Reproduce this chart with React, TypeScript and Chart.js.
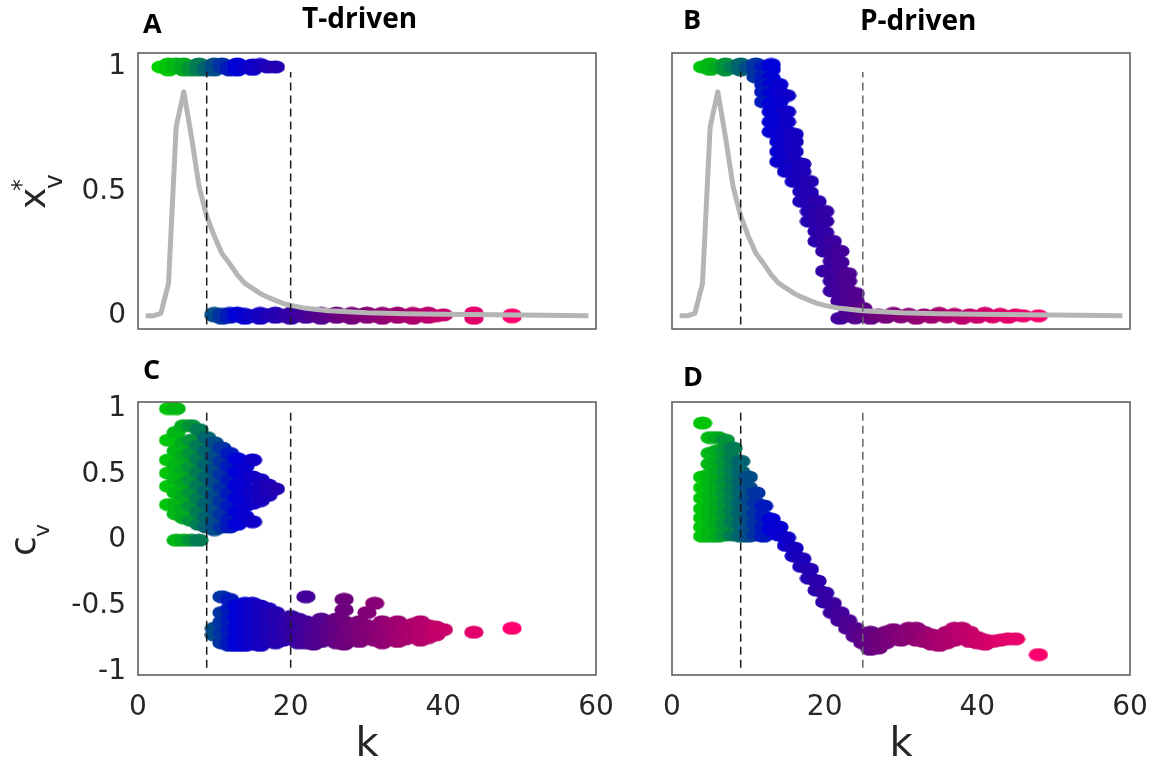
import React, { useEffect, useRef } from "react";
import { Chart, registerables } from "chart.js";

Chart.register(...registerables);

type Pt = [number, number];

// ---------- axes ----------
const xTicks = [0, 20, 40, 60];
const yTicksTop = [0, 0.5, 1];
const yTicksBottom = [-1, -0.5, 0, 0.5, 1];

// ---------- degree distribution (grey curve) ----------
const distK = [1, 2, 3, 4, 5, 6, 7, 8, 9, 10, 11, 12, 13, 14, 15, 16, 17, 18, 19, 20, 22, 25, 30, 35, 40, 50, 59];
const distP = [0, 0, 0.01, 0.13, 0.76, 0.9, 0.72, 0.52, 0.4, 0.32, 0.25, 0.21, 0.165, 0.13, 0.11, 0.09, 0.075, 0.062, 0.05, 0.042, 0.03, 0.02, 0.012, 0.008, 0.006, 0.003, 0];

// ---------- thresholds (dashed lines) ----------
const thresholdsT = [9, 20];
const thresholdsP = [9, 25];
const dashSpanTop: [number, number] = [-0.035, 0.98];
const dashSpanBottom: [number, number] = [-0.97, 0.97];

// ---------- A: T-driven, x*_v ----------
const aHigh: Pt[] = [
  [3, 1.0], [4, 0.988], [4, 1.012], [5, 1.0], [5, 1.012], [6, 0.988], [6, 1.012], [7, 1.0], [7, 0.988],
  [8, 1.012], [8, 0.988], [9, 1.0], [9, 0.988], [10, 1.012], [10, 0.988], [11, 1.0], [11, 1.012],
  [12, 0.988], [12, 1.0], [13, 1.012], [13, 0.988], [14, 1.0], [15, 1.008], [15, 0.99], [16, 1.01],
  [17, 1.0], [18, 1.0],
];
const aLow: Pt[] = [
  [10, 0.0], [10, 0.01], [11, -0.01], [11, 0.006], [12, 0.01], [12, -0.006], [13, 0.0], [13, 0.011],
  [14, -0.01], [14, 0.006], [15, 0.0], [16, 0.01], [16, -0.01], [17, 0.004], [18, -0.006], [18, 0.011],
  [19, 0.0], [20, 0.01], [20, -0.01], [21, 0.004], [22, -0.006], [22, 0.011], [23, 0.0], [24, 0.01],
  [24, -0.01], [25, 0.004], [26, -0.006], [26, 0.011], [27, 0.0], [28, 0.01], [28, -0.01], [29, 0.004],
  [30, -0.006], [30, 0.011], [31, 0.0], [32, 0.01], [32, -0.01], [33, 0.004], [34, -0.006], [34, 0.011],
  [35, 0.0], [36, 0.01], [36, -0.01], [37, 0.004], [38, -0.006], [38, 0.011], [39, 0.0], [40, 0.004],
  [44, 0.012], [44, -0.01], [49, 0.004], [49, -0.004],
];

// ---------- B: P-driven, x*_v ----------
const bHigh: Pt[] = [
  [4, 1.0], [5, 0.99], [5, 1.012], [6, 1.0], [7, 0.988], [7, 1.012], [8, 1.0], [9, 0.988], [9, 1.012],
  [10, 1.0], [11, 0.988], [11, 1.012], [12, 1.0], [13, 0.99], [13, 1.01],
];
const bSlope: Pt[] = [
  [11, 0.96], [12, 0.96], [13, 0.955],
  [12, 0.93], [13, 0.925], [14, 0.93],
  [12, 0.9], [13, 0.89], [14, 0.9], [15, 0.885],
  [12, 0.86], [13, 0.855], [14, 0.86],
  [13, 0.82], [14, 0.815], [15, 0.82],
  [13, 0.78], [14, 0.775], [15, 0.78],
  [13, 0.74], [14, 0.735], [15, 0.74], [16, 0.73],
  [14, 0.7], [15, 0.695], [16, 0.7],
  [14, 0.66], [15, 0.655], [16, 0.66],
  [14, 0.62], [15, 0.615], [16, 0.62], [17, 0.61],
  [15, 0.58], [16, 0.575], [17, 0.58],
  [16, 0.54], [17, 0.535], [18, 0.54],
  [17, 0.5], [18, 0.495],
  [17, 0.46], [18, 0.455], [19, 0.46],
  [18, 0.42], [19, 0.415], [20, 0.42],
  [18, 0.38], [19, 0.375], [20, 0.38],
  [19, 0.34], [20, 0.335],
  [19, 0.3], [20, 0.295], [21, 0.3],
  [20, 0.26], [21, 0.255], [22, 0.26],
  [21, 0.22], [22, 0.215],
  [20, 0.18], [21, 0.175], [22, 0.18], [23, 0.17],
  [21, 0.14], [22, 0.135], [23, 0.14],
  [21, 0.1], [22, 0.095], [23, 0.1], [24, 0.09],
  [22, 0.06], [23, 0.055], [24, 0.06],
  [23, 0.03], [24, 0.025], [25, 0.03],
];
const bLow: Pt[] = [
  [22, -0.01], [23, 0.006], [24, -0.008], [25, 0.01], [26, -0.01], [27, 0.004], [28, -0.006], [29, 0.01],
  [30, -0.004], [31, 0.006], [32, -0.01], [33, 0.004], [34, -0.006], [35, 0.01], [36, -0.004], [37, 0.006],
  [38, -0.01], [39, 0.004], [40, -0.006], [41, 0.01], [42, -0.004], [43, 0.006], [44, -0.006], [45, 0.004],
  [46, 0.0], [48, 0.0],
];

// ---------- C: T-driven, c_v ----------
const cUpper: Pt[] = [
  [4, 1.0], [4, 0.76], [4, 0.61], [4, 0.51], [4, 0.41], [4, 0.27],
  [5, 1.0], [5, 0.82], [5, 0.68], [5, 0.57], [5, 0.47], [5, 0.36], [5, 0.27], [5, 0.2], [5, 0.0],
  [6, 0.87], [6, 0.74], [6, 0.64], [6, 0.54], [6, 0.44], [6, 0.34], [6, 0.24], [6, 0.17], [6, 0.0],
  [7, 0.87], [7, 0.76], [7, 0.66], [7, 0.56], [7, 0.46], [7, 0.36], [7, 0.26], [7, 0.15], [7, 0.0],
  [8, 0.84], [8, 0.72], [8, 0.62], [8, 0.52], [8, 0.42], [8, 0.32], [8, 0.22], [8, 0.12], [8, 0.0],
  [9, 0.78], [9, 0.68], [9, 0.58], [9, 0.48], [9, 0.38], [9, 0.28], [9, 0.18], [9, 0.1],
  [10, 0.74], [10, 0.64], [10, 0.54], [10, 0.44], [10, 0.34], [10, 0.24], [10, 0.14], [10, 0.08],
  [11, 0.7], [11, 0.6], [11, 0.5], [11, 0.4], [11, 0.3], [11, 0.2], [11, 0.1],
  [12, 0.66], [12, 0.56], [12, 0.46], [12, 0.36], [12, 0.26], [12, 0.16], [12, 0.1],
  [13, 0.62], [13, 0.52], [13, 0.42], [13, 0.32], [13, 0.22], [13, 0.12],
  [14, 0.56], [14, 0.46], [14, 0.36], [14, 0.26], [14, 0.18],
  [15, 0.61], [15, 0.48], [15, 0.38], [15, 0.28], [15, 0.14],
  [16, 0.46], [16, 0.38], [16, 0.3],
  [17, 0.42], [17, 0.34],
  [18, 0.39],
];
const cLower: Pt[] = [
  [10, -0.67], [10, -0.72],
  [11, -0.43], [11, -0.55], [11, -0.62], [11, -0.7], [11, -0.78],
  [12, -0.45], [12, -0.52], [12, -0.6], [12, -0.68], [12, -0.76], [12, -0.8],
  [13, -0.5], [13, -0.58], [13, -0.66], [13, -0.74], [13, -0.8],
  [14, -0.48], [14, -0.56], [14, -0.64], [14, -0.72], [14, -0.8],
  [15, -0.48], [15, -0.56], [15, -0.64], [15, -0.72], [15, -0.79],
  [16, -0.5], [16, -0.58], [16, -0.66], [16, -0.74], [16, -0.8],
  [17, -0.52], [17, -0.6], [17, -0.68], [17, -0.76],
  [18, -0.55], [18, -0.63], [18, -0.71], [18, -0.78],
  [19, -0.6], [19, -0.68], [19, -0.76],
  [20, -0.58], [20, -0.66], [20, -0.74],
  [21, -0.6], [21, -0.7], [21, -0.78],
  [22, -0.43], [22, -0.62], [22, -0.7], [22, -0.78],
  [23, -0.65], [23, -0.73], [23, -0.79],
  [24, -0.6], [24, -0.7], [24, -0.77],
  [25, -0.66], [25, -0.75],
  [26, -0.6], [26, -0.7], [26, -0.78],
  [27, -0.45], [27, -0.53], [27, -0.62], [27, -0.72], [27, -0.79],
  [28, -0.65], [28, -0.75],
  [29, -0.62], [29, -0.7], [29, -0.77],
  [30, -0.55], [30, -0.65], [30, -0.74],
  [31, -0.48], [31, -0.68], [31, -0.76],
  [32, -0.62], [32, -0.72], [32, -0.78],
  [33, -0.65], [33, -0.74],
  [34, -0.62], [34, -0.7], [34, -0.77],
  [35, -0.66], [35, -0.75],
  [36, -0.64], [36, -0.72],
  [37, -0.62], [37, -0.7], [37, -0.76],
  [38, -0.65], [38, -0.74],
  [39, -0.66], [39, -0.72],
  [40, -0.68],
  [44, -0.7],
  [49, -0.67],
];

// ---------- D: P-driven, c_v ----------
const dBlock: Pt[] = [
  [4, 0.89], [4, 0.48], [4, 0.4], [4, 0.32], [4, 0.24], [4, 0.17], [4, 0.1], [4, 0.03],
  [5, 0.78], [5, 0.66], [5, 0.58], [5, 0.5], [5, 0.42], [5, 0.34], [5, 0.26], [5, 0.18], [5, 0.1], [5, 0.03],
  [6, 0.78], [6, 0.68], [6, 0.6], [6, 0.52], [6, 0.44], [6, 0.36], [6, 0.28], [6, 0.2], [6, 0.12], [6, 0.03],
  [7, 0.76], [7, 0.68], [7, 0.6], [7, 0.52], [7, 0.44], [7, 0.36], [7, 0.28], [7, 0.2], [7, 0.12], [7, 0.04],
  [8, 0.7], [8, 0.62], [8, 0.54], [8, 0.46], [8, 0.38], [8, 0.3], [8, 0.22], [8, 0.14], [8, 0.04],
  [9, 0.6], [9, 0.52], [9, 0.44], [9, 0.36], [9, 0.28], [9, 0.2], [9, 0.12], [9, 0.03],
  [10, 0.48], [10, 0.4], [10, 0.32], [10, 0.24], [10, 0.16], [10, 0.08], [10, 0.03],
  [11, 0.36], [11, 0.28], [11, 0.2], [11, 0.12], [11, 0.04],
  [12, 0.26], [12, 0.18], [12, 0.1], [12, 0.03],
  [13, 0.16], [13, 0.08],
];
const dSlope: Pt[] = [
  [14, 0.1], [14, 0.04], [15, 0.02], [15, -0.04], [16, -0.06], [16, -0.12], [17, -0.14], [17, -0.2],
  [18, -0.22], [18, -0.29], [19, -0.31], [19, -0.38], [20, -0.4], [20, -0.47], [21, -0.48], [21, -0.55],
  [22, -0.55], [22, -0.61], [23, -0.61], [23, -0.67], [24, -0.67], [24, -0.73], [25, -0.72], [25, -0.78],
];
const dTail: Pt[] = [
  [26, -0.7], [26, -0.78], [26, -0.83], [27, -0.74], [27, -0.82], [28, -0.7], [28, -0.78],
  [29, -0.68], [29, -0.75], [30, -0.7], [30, -0.76], [31, -0.67], [31, -0.74], [32, -0.67], [32, -0.76],
  [33, -0.7], [33, -0.77], [34, -0.72], [34, -0.79], [35, -0.73], [35, -0.8], [36, -0.7], [36, -0.78],
  [37, -0.67], [37, -0.76], [38, -0.67], [38, -0.74], [39, -0.7], [39, -0.77], [40, -0.74], [40, -0.78],
  [41, -0.76], [41, -0.79], [42, -0.77], [43, -0.76], [44, -0.75], [45, -0.75], [48, -0.87],
];

// ---------- colour by degree ----------
const colorStops: number[][] = [
  [3, 0, 210, 0], [6, 0, 170, 30], [9, 0, 100, 110], [13, 0, 0, 215], [20, 50, 0, 165],
  [27, 110, 0, 125], [35, 165, 0, 110], [42, 215, 0, 105], [49, 255, 0, 110],
];
function kColor(k: number): string {
  if (k <= colorStops[0][0]) return `rgb(${colorStops[0][1]},${colorStops[0][2]},${colorStops[0][3]})`;
  for (let i = 1; i < colorStops.length; i++) {
    const a = colorStops[i - 1], b = colorStops[i];
    if (k <= b[0]) {
      const t = (k - a[0]) / (b[0] - a[0]);
      const c = [1, 2, 3].map((j) => Math.round(a[j] + (b[j] - a[j]) * t));
      return `rgb(${c[0]},${c[1]},${c[2]})`;
    }
  }
  const l = colorStops[colorStops.length - 1];
  return `rgb(${l[1]},${l[2]},${l[3]})`;
}

const imgCache = new Map<string, HTMLCanvasElement>();
function ellipseImg(color: string): HTMLCanvasElement {
  const hit = imgCache.get(color);
  if (hit) return hit;
  const c = document.createElement("canvas");
  c.width = 20;
  c.height = 14;
  const g = c.getContext("2d")!;
  g.fillStyle = color;
  g.beginPath();
  g.ellipse(10, 7, 9.7, 6.6, 0, 0, Math.PI * 2);
  g.fill();
  imgCache.set(color, c);
  return c;
}

const framePlugin = {
  id: "frame",
  afterDatasetsDraw(chart: any) {
    const { ctx, chartArea: a } = chart;
    ctx.save();
    ctx.strokeStyle = "#555555";
    ctx.lineWidth = 1.5;
    ctx.strokeRect(a.left, a.top, a.right - a.left, a.bottom - a.top);
    ctx.restore();
  },
};

interface Spec {
  canvas: { left: number; top: number; width: number; height: number };
  area: { left: number; top: number; right: number; bottom: number };
  yRange: [number, number];
  yTicks: number[];
  showX: boolean;
  showY: boolean;
  points: Pt[];
  thresholds: number[];
  thresholdColors: string[];
  dashSpan: [number, number];
  showDist: boolean;
}

const specs: Spec[] = [
  {
    canvas: { left: 0, top: 30, width: 625, height: 310 },
    area: { left: 138, top: 53, right: 596, bottom: 329 },
    yRange: [-0.053, 1.056], yTicks: yTicksTop, showX: false, showY: true,
    points: [...aHigh, ...aLow], thresholds: thresholdsT, thresholdColors: ["#1a1a1a", "#1a1a1a"],
    dashSpan: dashSpanTop, showDist: true,
  },
  {
    canvas: { left: 625, top: 30, width: 530, height: 310 },
    area: { left: 672, top: 53, right: 1130, bottom: 329 },
    yRange: [-0.053, 1.056], yTicks: yTicksTop, showX: false, showY: false,
    points: [...bHigh, ...bSlope, ...bLow], thresholds: thresholdsP, thresholdColors: ["#1a1a1a", "#666666"],
    dashSpan: dashSpanTop, showDist: true,
  },
  {
    canvas: { left: 0, top: 380, width: 625, height: 387 },
    area: { left: 138, top: 402, right: 596, bottom: 675 },
    yRange: [-1.025, 1.05], yTicks: yTicksBottom, showX: true, showY: true,
    points: [...cUpper, ...cLower], thresholds: thresholdsT, thresholdColors: ["#1a1a1a", "#1a1a1a"],
    dashSpan: dashSpanBottom, showDist: false,
  },
  {
    canvas: { left: 625, top: 380, width: 530, height: 387 },
    area: { left: 672, top: 402, right: 1130, bottom: 675 },
    yRange: [-1.025, 1.05], yTicks: yTicksBottom, showX: true, showY: false,
    points: [...dBlock, ...dSlope, ...dTail], thresholds: thresholdsP, thresholdColors: ["#1a1a1a", "#666666"],
    dashSpan: dashSpanBottom, showDist: false,
  },
];

const tickFont = { family: "'DejaVu Sans', sans-serif", size: 28 };

function zeroPad(sc: any) {
  sc.paddingTop = 0;
  sc.paddingBottom = 0;
  sc.paddingLeft = 0;
  sc.paddingRight = 0;
}

function buildConfig(s: Spec): any {
  const datasets: any[] = [];
  s.thresholds.forEach((t, i) => {
    datasets.push({
      data: [{ x: t, y: s.dashSpan[0] }, { x: t, y: s.dashSpan[1] }],
      showLine: true, borderColor: s.thresholdColors[i], borderWidth: 1.5, borderDash: [8, 5],
      pointRadius: 0, order: 0,
    });
  });
  if (s.showDist) {
    datasets.push({
      data: distK.map((k, i) => ({ x: k, y: distP[i] })),
      showLine: true, borderColor: "#b5b5b5", borderWidth: 5, pointRadius: 0, order: 1,
      borderJoinStyle: "round", tension: 0,
    });
  }
  datasets.push({
    data: s.points.map(([x, y]) => ({ x, y })),
    pointStyle: (ctx: any) => ellipseImg(kColor(ctx.raw ? ctx.raw.x : 0)),
    pointRadius: 6, order: 2, showLine: false,
  });
  return {
    type: "scatter",
    data: { datasets },
    plugins: [framePlugin],
    options: {
      responsive: false,
      animation: false,
      devicePixelRatio: 1,
      events: [],
      layout: {
        padding: {
          left: 0,
          top: s.area.top - s.canvas.top,
          right: s.canvas.left + s.canvas.width - s.area.right,
          bottom: 0,
        },
      },
      plugins: { legend: { display: false }, tooltip: { enabled: false } },
      scales: {
        x: {
          type: "linear", min: 0, max: 60,
          afterBuildTicks: (sc: any) => { sc.ticks = xTicks.map((v) => ({ value: v })); },
          afterFit: (sc: any) => { sc.height = s.canvas.top + s.canvas.height - s.area.bottom; zeroPad(sc); },
          grid: { display: false, drawTicks: false }, border: { display: false },
          ticks: { display: s.showX, font: tickFont, color: "#262626", padding: 16, maxRotation: 0, autoSkip: false },
        },
        y: {
          type: "linear", min: s.yRange[0], max: s.yRange[1],
          afterBuildTicks: (sc: any) => { sc.ticks = s.yTicks.map((v) => ({ value: v })); },
          afterFit: (sc: any) => { sc.width = s.area.left - s.canvas.left; zeroPad(sc); },
          grid: { display: false, drawTicks: false }, border: { display: false },
          ticks: { display: s.showY, font: tickFont, color: "#262626", padding: 12, callback: (v: any) => String(v) },
        },
      },
    },
  };
}

const boldFont = "'Open Sans', 'Noto Sans', sans-serif";
const plainFont = "'DejaVu Sans', sans-serif";

const panelLabels = [
  { t: "A", left: 143, top: 8.6, size: 27 },
  { t: "T-driven", left: 302, top: 3.4, size: 28 },
  { t: "B", left: 683, top: 5.3, size: 27 },
  { t: "P-driven", left: 860, top: 5, size: 28 },
  { t: "C", left: 143, top: 355, size: 27 },
  { t: "D", left: 683, top: 362, size: 27 },
];

// glyph placed in a rotated (-90deg) frame; u = along text, v = across (downwards in text frame)
function G({ u, v, size, children }: { u: number; v: number; size: number; children: React.ReactNode }) {
  return (
    <span style={{ position: "absolute", left: u, top: v, fontSize: size, lineHeight: 1, whiteSpace: "nowrap" }}>
      {children}
    </span>
  );
}

function RotFrame({ left, top, children }: { left: number; top: number; children: React.ReactNode }) {
  return (
    <div
      style={{
        position: "absolute", left, top, width: 0, height: 0,
        transform: "rotate(-90deg)", transformOrigin: "0 0",
        fontFamily: plainFont, color: "#262626",
      }}
    >
      {children}
    </div>
  );
}

export default function App() {
  const refs = useRef<(HTMLCanvasElement | null)[]>([]);
  useEffect(() => {
    const charts = specs.map((s, i) => new Chart(refs.current[i]!, buildConfig(s)));
    return () => charts.forEach((c) => c.destroy());
  }, []);

  return (
    <div style={{ position: "absolute", left: 0, top: 0, width: 1155, height: 767, background: "#ffffff", overflow: "hidden" }}>
      {specs.map((s, i) => (
        <canvas
          key={i}
          ref={(el) => { refs.current[i] = el; }}
          width={s.canvas.width}
          height={s.canvas.height}
          style={{ position: "absolute", left: s.canvas.left, top: s.canvas.top, width: s.canvas.width, height: s.canvas.height }}
        />
      ))}
      {panelLabels.map((l) => (
        <div
          key={l.t}
          style={{ position: "absolute", left: l.left, top: l.top, fontFamily: boldFont, fontWeight: 700, fontSize: l.size, lineHeight: 1, color: "#000" }}
        >
          {l.t}
        </div>
      ))}
      <RotFrame left={0} top={210}>
        <G u={1} v={14.5} size={36}>x</G>
        <G u={19} v={8.7} size={24}>*</G>
        <G u={21} v={41} size={25}>v</G>
      </RotFrame>
      <RotFrame left={0} top={557}>
        <G u={1} v={4.5} size={36}>c</G>
        <G u={20} v={31.4} size={22}>v</G>
      </RotFrame>
      {[specs[2], specs[3]].map((s, i) => (
        <div
          key={"k" + i}
          style={{
            position: "absolute", left: s.area.left, width: s.area.right - s.area.left, top: 722,
            textAlign: "center", fontFamily: plainFont, fontSize: 40, lineHeight: 1, color: "#262626",
          }}
        >
          k
        </div>
      ))}
    </div>
  );
}
